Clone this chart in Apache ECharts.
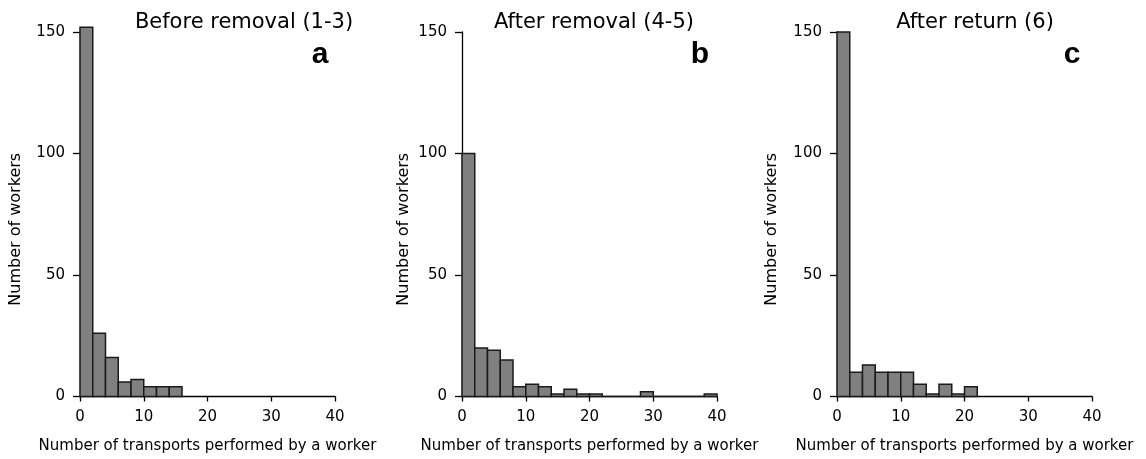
<!DOCTYPE html>
<html>
<head>
<meta charset="utf-8">
<script src="https://cdn.jsdelivr.net/npm/echarts@6/dist/echarts.min.js"></script>
<style>
html,body{margin:0;padding:0;background:#fff;}
#chart{width:1146px;height:459px;}
</style>
</head>
<body>
<div id="chart"></div>
<script>
// Histogram data: number of workers per bin of 2 transports
const binWidth = 2;
const countsA = [152, 26, 16, 6, 7, 4, 4, 4];
const countsB = [100, 20, 19, 15, 4, 5, 4, 1, 3, 1, 1, 0, 0, 0, 2, 0, 0, 0, 0, 1];
const countsC = [150, 10, 13, 10, 10, 10, 5, 1, 5, 1, 4];
const panelTitles = ['Before removal (1-3)', 'After removal (4-5)', 'After return (6)'];
const panelLetters = ['a', 'b', 'c'];
const xTicks = [0, 10, 20, 30, 40];
const yTicks = [0, 50, 100, 150];
const xName = 'Number of transports performed by a worker';
const yName = 'Number of workers';

const FONT = '"DejaVu Sans", sans-serif';
const BOLDFONT = '"Liberation Sans", Arial, Helvetica, sans-serif';
const panels = [countsA, countsB, countsC];
const gridLeft = [80, 462, 837];
const gridWidth = 255;
const yNameGap = [64, 58, 65];
const titleX = [244, 594, 975];
const letterX = [320, 700, 1072];

function toBins(counts) {
  return counts.map((c, i) => [i * binWidth, (i + 1) * binWidth, c]);
}

const grids = [], xAxes = [], yAxes = [], series = [], titles = [];
panels.forEach((counts, k) => {
  grids.push({ left: gridLeft[k], width: gridWidth, top: 32, height: 370, containLabel: false });
  xAxes.push({
    type: 'value', gridIndex: k, min: xTicks[0], max: xTicks[xTicks.length - 1], interval: xTicks[1] - xTicks[0],
    splitLine: { show: false },
    axisLine: { lineStyle: { color: '#000', width: 1.3 } },
    axisTick: { length: 5, lineStyle: { color: '#000', width: 1.3 } },
    axisLabel: { color: '#000', fontSize: 15, fontFamily: FONT, margin: 13 },
    name: xName, nameLocation: 'middle', nameGap: 50,
    nameTextStyle: { color: '#000', fontSize: 15, fontFamily: FONT, verticalAlign: 'middle' }
  });
  yAxes.push({
    type: 'value', gridIndex: k, min: yTicks[0], max: yTicks[yTicks.length - 1], interval: yTicks[1] - yTicks[0],
    splitLine: { show: false },
    axisLine: { show: true, lineStyle: { color: '#000', width: 1.3 } },
    axisTick: { show: true, length: 7, lineStyle: { color: '#000', width: 1.3 } },
    axisLabel: { color: '#000', fontSize: 15, fontFamily: FONT, margin: 15 },
    name: yName, nameLocation: 'middle', nameGap: yNameGap[k], nameRotate: 90,
    nameTextStyle: { color: '#000', fontSize: 16, fontFamily: FONT, verticalAlign: 'middle', padding: [0, 30, 0, 0] }
  });
  series.push({
    type: 'custom', xAxisIndex: k, yAxisIndex: k,
    data: toBins(counts),
    encode: { x: [0, 1], y: 2 },
    clip: false,
    renderItem: function (params, api) {
      const p0 = api.coord([api.value(0), 0]);
      const p1 = api.coord([api.value(1), api.value(2)]);
      return {
        type: 'rect',
        shape: { x: p0[0], y: p1[1], width: p1[0] - p0[0], height: p0[1] - p1[1] },
        style: { fill: '#808080', stroke: '#1a1a1a', lineWidth: 1.5 }
      };
    }
  });
  titles.push({
    text: panelTitles[k], left: titleX[k], top: 12, textAlign: 'center', padding: 0,
    textStyle: { color: '#000', fontSize: 21, fontWeight: 'normal', fontFamily: FONT }
  });
  titles.push({
    text: panelLetters[k], left: letterX[k], top: 40, textAlign: 'center', padding: 0,
    textStyle: { color: '#000', fontSize: 30, fontWeight: 'bold', fontFamily: BOLDFONT }
  });
});

const chart = echarts.init(document.getElementById('chart'), null, { renderer: 'canvas' });
chart.setOption({
  animation: false,
  backgroundColor: '#fff',
  title: titles,
  grid: grids,
  xAxis: xAxes,
  yAxis: yAxes,
  series: series
});
</script>
</body>
</html>
